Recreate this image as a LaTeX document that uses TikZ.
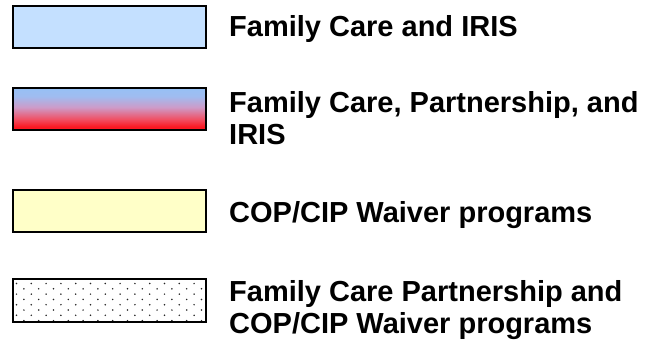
\documentclass[tikz,border=0pt]{standalone}
\usepackage{fontspec}
\setmainfont{Liberation Sans}
\definecolor{lblue}{RGB}{196,224,255}
\definecolor{lyellow}{RGB}{255,255,200}
\definecolor{gA}{RGB}{250,25,35}
\definecolor{gB}{RGB}{240,80,100}
\definecolor{gC}{RGB}{205,155,200}
\definecolor{gD}{RGB}{160,188,240}
\definecolor{gE}{RGB}{150,192,245}
\pgfdeclareverticalshading{legshade}{100bp}{%
  color(0bp)=(gA);
  color(25bp)=(gA);
  color(29bp)=(gA);
  color(38bp)=(gB);
  color(52bp)=(gC);
  color(65bp)=(gD);
  color(75bp)=(gE);
  color(100bp)=(gE)}
\begin{document}
\begin{tikzpicture}[x=1pt,y=1pt,
  legbox/.style={draw=black,line width=1.6pt},
  legtext/.style={anchor=base west,inner sep=0pt,font=\fontsize{29}{32}\selectfont\bfseries}]
\useasboundingbox (0,0) rectangle (657,-343);
% boxes
\draw[legbox,fill=lblue] (13,-6) rectangle (206,-48);
\shade[shading=legshade] (13,-88) rectangle (206,-130);
\draw[legbox] (13,-88) rectangle (206,-130);
\draw[legbox,fill=lyellow] (13,-190) rectangle (206,-232);
\fill[white] (13,-279) rectangle (206,-322);
\begin{scope}
\clip (14,-280) rectangle (205,-321);
\foreach \r in {0,...,8}{
  \pgfmathsetmacro{\yy}{-283.5-5.3*\r}
  \pgfmathsetmacro{\xo}{mod(\r,2)*7.4}
  \foreach \c in {0,...,13}{
    \fill[black!85] ({16.5+\xo+14.8*\c},\yy) circle (0.85);
  }
}
\end{scope}
\draw[legbox] (13,-279) rectangle (206,-322);
% labels
\node[legtext] (t1) at (229,-36) {Family Care and IRIS};
\node[legtext] (t2) at (229,-112) {\begin{tabular}[t]{@{}l@{}}Family Care, Partnership, and\\IRIS\end{tabular}};
\node[legtext] (t3) at (229,-222) {COP/CIP Waiver programs};
\node[legtext] (t4) at (229,-301) {\begin{tabular}[t]{@{}l@{}}Family Care Partnership and\\COP/CIP Waiver programs\end{tabular}};
\end{tikzpicture}
\end{document}
